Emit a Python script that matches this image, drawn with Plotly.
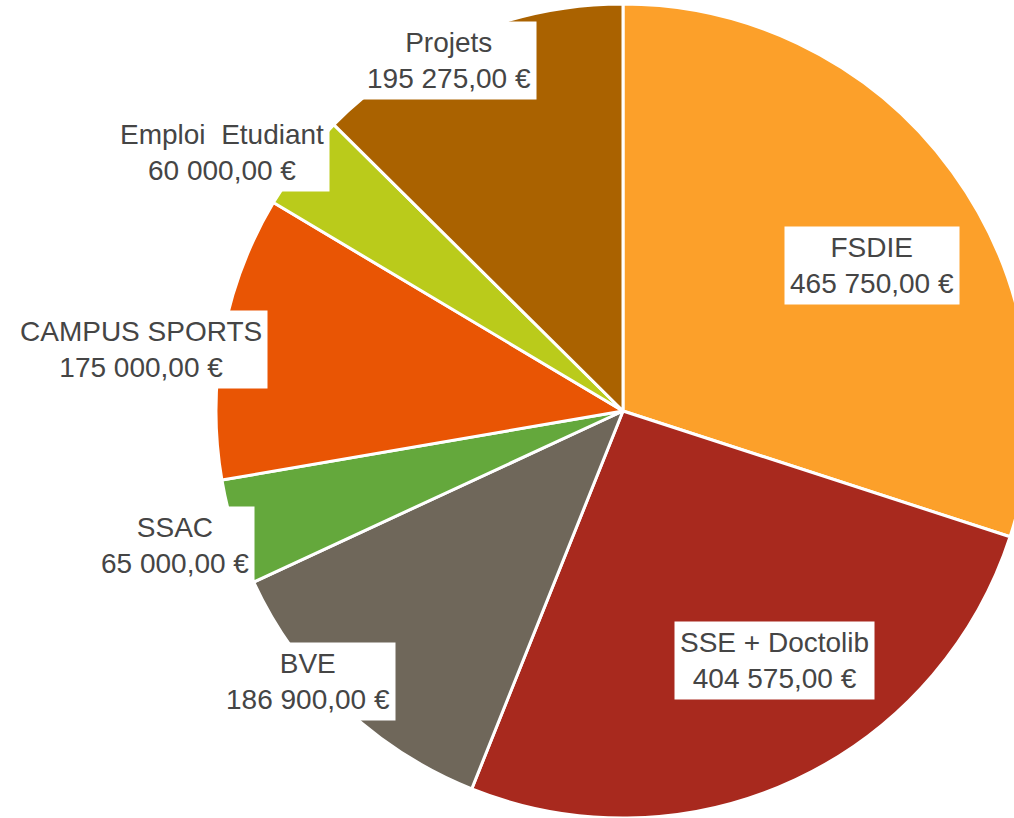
import plotly.graph_objects as go

# ---- data ----
categories = ["FSDIE", "SSE + Doctolib", "BVE", "SSAC", "CAMPUS SPORTS", "Emploi  Etudiant", "Projets"]
values = [465750, 404575, 186900, 65000, 175000, 60000, 195275]
colors = ["#FCA02A", "#A8291E", "#6F675A", "#64A83C", "#E95504", "#BACB1B", "#AA6200"]

# label centres in page pixels (layout only)
label_pos = [(872, 265), (774, 660), (308, 681), (175, 545), (141, 349), (222, 152), (449, 60)]

W, H = 1040, 830
CX, CY, R = 623, 411, 407


def fmt_eur(v):
    s = f"{v:,.2f}".replace(",", " ").replace(".", ",")
    return s + " €"


fig = go.Figure(
    go.Pie(
        labels=categories,
        values=values,
        sort=False,
        direction="clockwise",
        rotation=0,
        marker=dict(colors=colors, line=dict(color="white", width=3)),
        textinfo="none",
        hoverinfo="label+value",
        showlegend=False,
        domain=dict(x=[(CX - R) / W, (CX + R) / W], y=[1 - (CY + R) / H, 1 - (CY - R) / H]),
    )
)

for name, v, (px, py) in zip(categories, values, label_pos):
    fig.add_annotation(
        x=px / W,
        y=1 - py / H,
        xref="paper",
        yref="paper",
        text=f"{name}<br>{fmt_eur(v)}",
        showarrow=False,
        bgcolor="white",
        borderpad=5,
        font=dict(family="Liberation Sans, Arial, sans-serif", size=28, color="#454545"),
        align="center",
        xanchor="center",
        yanchor="middle",
    )

fig.update_layout(
    width=W,
    height=H,
    margin=dict(l=0, r=0, t=0, b=0),
    paper_bgcolor="white",
    plot_bgcolor="white",
)

fig.write_html(
    "out.html",
    config={"displayModeBar": False},
    post_script="document.documentElement.style.overflow='hidden';document.body.style.overflow='hidden';document.body.style.margin='0';",
)
